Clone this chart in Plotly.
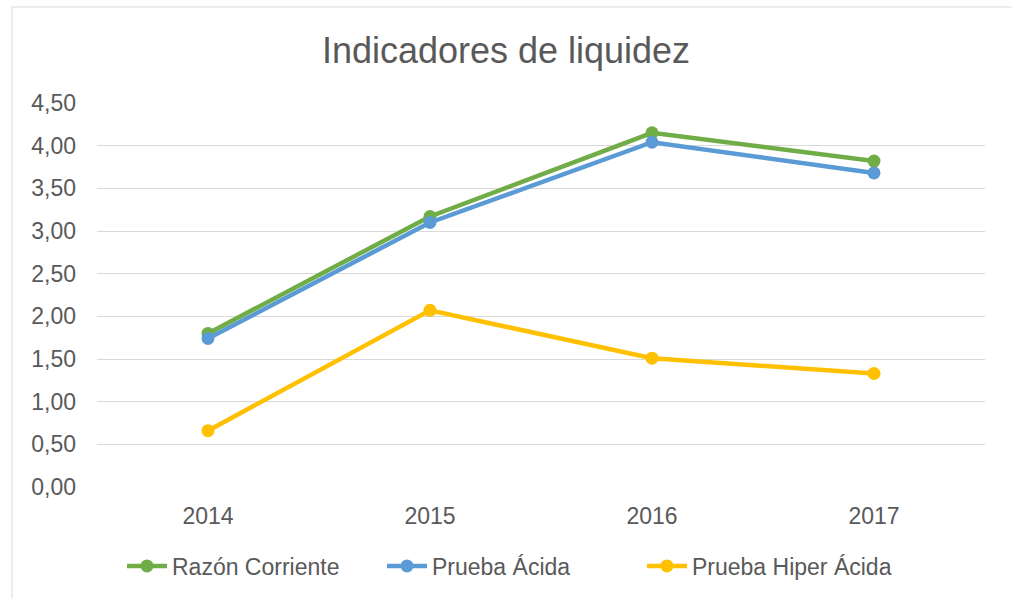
import plotly.graph_objects as go

years = ['2014', '2015', '2016', '2017']
razon_corriente = [1.80, 3.17, 4.15, 3.82]
prueba_acida = [1.74, 3.10, 4.04, 3.68]
prueba_hiper_acida = [0.66, 2.07, 1.51, 1.33]

y_ticks = [0, 0.5, 1, 1.5, 2, 2.5, 3, 3.5, 4, 4.5]
y_labels = ['0,00', '0,50', '1,00', '1,50', '2,00', '2,50', '3,00', '3,50', '4,00', '4,50']

series = [
    ('Razón Corriente', razon_corriente, '#70ad47'),
    ('Prueba Ácida', prueba_acida, '#5b9bd5'),
    ('Prueba Hiper Ácida', prueba_hiper_acida, '#ffc000'),
]

fig = go.Figure()
for name, vals, color in series:
    fig.add_trace(go.Scatter(
        x=years, y=vals, name=name, mode='lines+markers',
        line=dict(color=color, width=4.5),
        marker=dict(color=color, size=13),
    ))

fig.update_layout(
    width=1012, height=599,
    margin=dict(l=97, r=27, t=103, b=112),
    paper_bgcolor='white', plot_bgcolor='white',
    font=dict(family='Liberation Sans, Arial, sans-serif', color='#595959', size=23),
    title=dict(text='Indicadores de liquidez', x=0.5, xanchor='center',
               y=1 - 50 / 599, yanchor='middle', font=dict(size=36, color='#595959')),
    xaxis=dict(type='category', range=[-0.5, 3.5], showgrid=False, showline=False,
               ticks='', ticklabelstandoff=13, tickfont=dict(size=23, color='#595959')),
    yaxis=dict(range=[0, 4.5], tickvals=y_ticks, ticktext=y_labels,
               gridcolor='#d9d9d9', gridwidth=1, zeroline=False, showline=False,
               ticks='', ticklabelstandoff=20, tickfont=dict(size=23, color='#595959')),
    legend=dict(orientation='h', x=(512 - 97) / 888, xanchor='center', y=-79 / 384, yanchor='middle',
                font=dict(size=23, color='#595959'), itemwidth=40,
                entrywidth=205, entrywidthmode='pixels'),
    shapes=[dict(type='rect', xref='paper', yref='paper',
                 x0=(12 - 97) / 888, x1=1.2, y0=-1, y1=(487 - 7) / 384,
                 line=dict(color='#d9d9d9', width=1), fillcolor='rgba(0,0,0,0)', layer='below')],
)

fig.write_html('out.html', config={'displayModeBar': False},
               post_script="document.body.style.margin='0';")
